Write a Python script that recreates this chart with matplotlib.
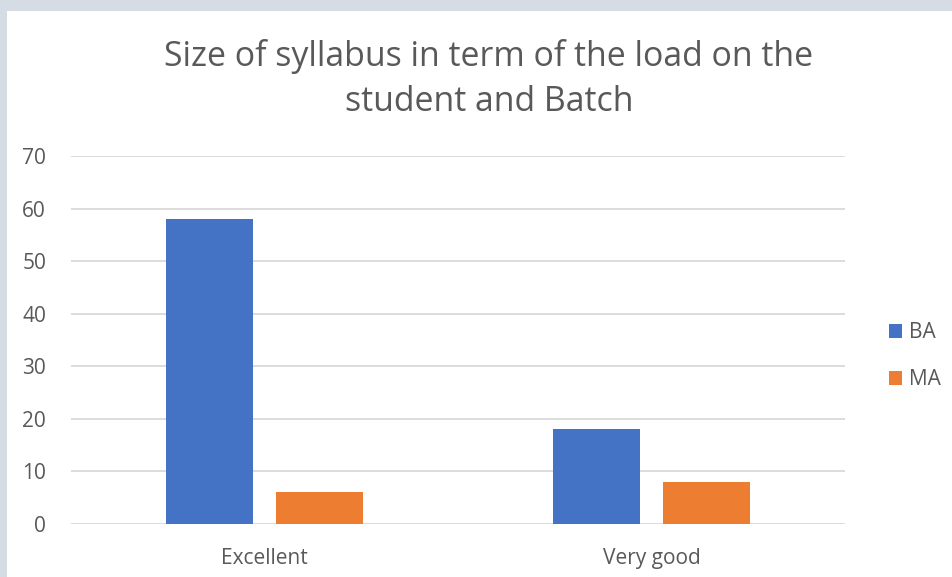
import matplotlib.pyplot as plt
import matplotlib.patches as mpatches
import numpy as np

categories = ["Excellent", "Very good"]
series = ["BA", "MA"]
ba_values = [58, 18]
ma_values = [6, 8]
yticks = [0, 10, 20, 30, 40, 50, 60, 70]

plt.rcParams['font.family'] = ['Open Sans', 'DejaVu Sans']

W, H = 953, 577
fig = plt.figure(figsize=(W / 100, H / 100), dpi=100)
fig.patch.set_facecolor('#D6DCE4')
# white chart panel
fig.patches.append(mpatches.Rectangle((7 / W, 0), 1 - 7 / W, 1 - 11 / H,
                                      transform=fig.transFigure,
                                      facecolor='white', edgecolor='none', zorder=-5))

ax = fig.add_axes([71 / W, (H - 524) / H, (845 - 71) / W, (524 - 156) / H])
ax.set_facecolor('none')

x = np.arange(len(categories))
width = 0.225
offset = 0.142
ax.bar(x - offset, ba_values, width, color='#4472C4', label=series[0], zorder=3)
ax.bar(x + offset, ma_values, width, color='#ED7D31', label=series[1], zorder=3)

ax.set_xlim(-0.5, 1.5)
ax.set_ylim(0, 70)
ax.set_yticks(yticks)
ax.set_xticks(x)
ax.set_xticklabels(categories)
ax.grid(axis='y', color='#D9D9D9', linewidth=1.3, zorder=0)
for s in ax.spines.values():
    s.set_visible(False)
ax.tick_params(length=0, labelsize=15, labelcolor='#595959')
ax.tick_params(axis='y', pad=18)
ax.tick_params(axis='x', pad=17)

fig.text(489 / W, 1 - 79 / H, "Size of syllabus in term of the load on the\nstudent and Batch",
         ha='center', va='center', fontsize=24.4, color='#595959', linespacing=1.42)

ax.legend(loc='center left', bbox_to_anchor=(870 / W, (H - 356) / H),
          bbox_transform=fig.transFigure, frameon=False, fontsize=15,
          labelcolor='#595959', handlelength=0.65, handleheight=0.65,
          handletextpad=0.3, labelspacing=1.25)

plt.savefig("out.png", dpi=100)
plt.close()
